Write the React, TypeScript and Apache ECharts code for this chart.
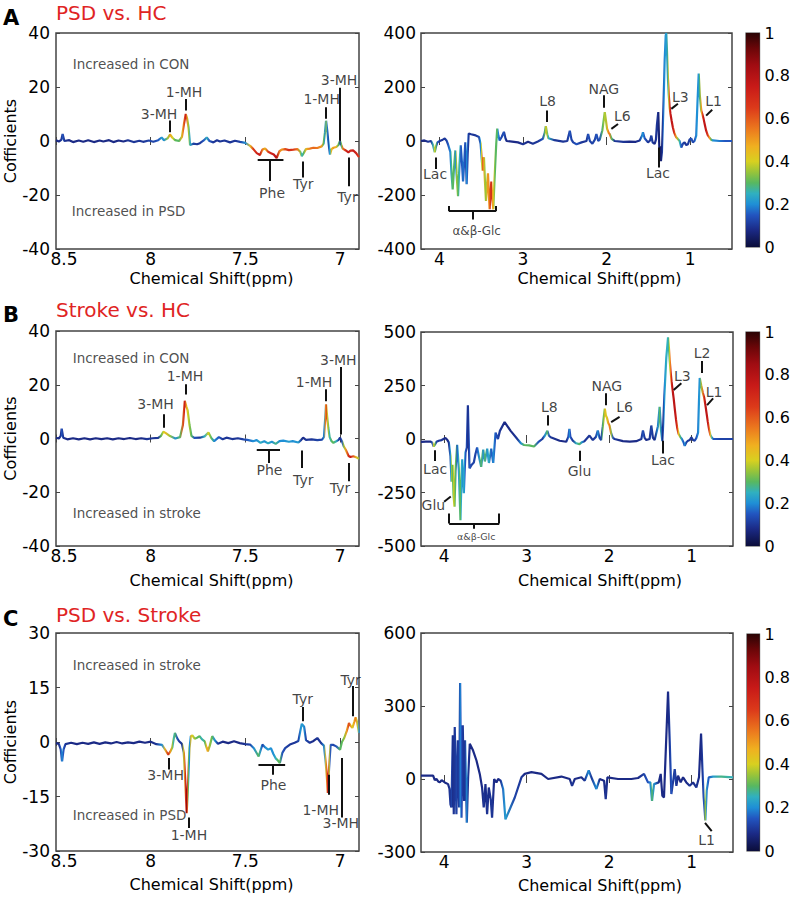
import React, { useEffect, useRef } from "react";
import * as echarts from "echarts";

const FONT = "DejaVu Sans";

// ---------- spectra: [ppm, coefficient, |r|] ----------
const psdHcAromatic = [
  [8.5, 0.3, 0.08], [8.485, -0.2, 0.08], [8.472, 0.4, 0.1], [8.465, 2.6, 0.15], [8.456, 0.0, 0.1],
  [8.43, 0.3, 0.08], [8.41, -0.4, 0.08], [8.38, 0.2, 0.08], [8.356, -0.3, 0.08], [8.33, 0.3, 0.08],
  [8.3, -0.4, 0.08], [8.27, 0.2, 0.08], [8.25, -0.2, 0.08], [8.22, 0.3, 0.08], [8.197, -0.4, 0.08],
  [8.17, 0.2, 0.08], [8.144, -0.2, 0.08], [8.12, 0.3, 0.1], [8.09, -0.4, 0.1], [8.06, 0.1, 0.1],
  [8.04, -0.3, 0.1], [8.01, 0.2, 0.12], [7.986, -0.3, 0.12], [7.96, 0.3, 0.15], [7.942, 1.3, 0.22],
  [7.93, 0.3, 0.2], [7.91, 1.0, 0.35], [7.898, 2.4, 0.5], [7.885, 1.2, 0.4], [7.871, 0.3, 0.3],
  [7.85, 0.0, 0.3], [7.835, 1.5, 0.45], [7.825, 6.0, 0.6], [7.815, 10.0, 0.75], [7.808, 8.5, 0.5],
  [7.8, 5.0, 0.35], [7.792, -1.5, 0.25], [7.775, -1.0, 0.12], [7.755, -1.2, 0.1], [7.74, -0.8, 0.1],
  [7.72, 0.2, 0.15], [7.704, 1.3, 0.25], [7.69, 0.0, 0.15], [7.669, -0.5, 0.1], [7.65, 0.3, 0.1],
  [7.634, -0.2, 0.1], [7.61, 0.2, 0.1], [7.581, -0.5, 0.1], [7.555, 0.1, 0.1], [7.528, -0.3, 0.12],
  [7.5, -0.7, 0.2], [7.475, -1.8, 0.45], [7.458, -3.0, 0.65], [7.44, -4.5, 0.72], [7.423, -5.2, 0.75],
  [7.41, -3.2, 0.55], [7.396, -2.8, 0.45], [7.38, -4.0, 0.65], [7.365, -4.5, 0.72], [7.35, -5.0, 0.75],
  [7.335, -6.3, 0.8], [7.32, -3.8, 0.55], [7.308, -3.2, 0.5], [7.29, -3.0, 0.62], [7.27, -3.4, 0.7],
  [7.246, -3.2, 0.65], [7.225, -3.0, 0.55], [7.21, -4.0, 0.35], [7.202, -5.6, 0.25], [7.192, -4.5, 0.3],
  [7.18, -3.0, 0.45], [7.16, -2.8, 0.55], [7.141, -2.5, 0.58], [7.12, -2.6, 0.55], [7.097, -2.0, 0.5],
  [7.087, -1.0, 0.3], [7.08, 3.0, 0.2], [7.074, 7.5, 0.35], [7.068, 4.0, 0.2], [7.063, 0.5, 0.1],
  [7.057, -3.0, 0.2], [7.053, -5.0, 0.25], [7.045, -3.0, 0.45], [7.035, -2.5, 0.5], [7.02, -2.2, 0.45],
  [7.009, -1.5, 0.3], [7.0, 0.0, 0.1], [6.993, -1.5, 0.3], [6.986, -2.8, 0.55], [6.97, -3.5, 0.72],
  [6.956, -4.2, 0.75], [6.945, -3.6, 0.7], [6.93, -3.5, 0.75], [6.915, -4.5, 0.72], [6.9, -6.0, 0.65],
];

const psdHcAliphatic = [
  [4.22, 0, 0.08], [4.18, 2, 0.08], [4.135, -3, 0.1], [4.1, 0, 0.1], [4.076, -15, 0.25],
  [4.056, -42, 0.4], [4.04, -20, 0.3], [4.024, -5, 0.15], [3.996, 0, 0.1], [3.96, 5, 0.1],
  [3.936, 9, 0.1], [3.915, 2, 0.12], [3.897, -12, 0.15], [3.869, -40, 0.2], [3.855, -120, 0.28],
  [3.841, -179, 0.3], [3.825, -100, 0.3], [3.809, -35, 0.2], [3.795, -120, 0.35], [3.777, -204, 0.3],
  [3.76, -90, 0.25], [3.745, -16, 0.15], [3.73, -80, 0.15], [3.717, -150, 0.18], [3.7, -60, 0.15],
  [3.69, -5, 0.12], [3.682, -80, 0.18], [3.674, -160, 0.2], [3.662, -50, 0.15], [3.65, 28, 0.1],
  [3.62, 25, 0.1], [3.578, 22, 0.1], [3.526, 15, 0.12], [3.507, -10, 0.2], [3.495, -60, 0.4],
  [3.483, -110, 0.6], [3.467, -60, 0.45], [3.455, -150, 0.35], [3.443, -222, 0.35], [3.43, -160, 0.45],
  [3.419, -120, 0.55], [3.41, -190, 0.5], [3.399, -253, 0.6], [3.39, -200, 0.65], [3.379, -150, 0.75],
  [3.367, -210, 0.5], [3.355, -253, 0.45], [3.343, -160, 0.35], [3.331, -80, 0.3], [3.32, -10, 0.3],
  [3.308, 46, 0.3], [3.295, 20, 0.2], [3.28, 2, 0.15], [3.255, 15, 0.12], [3.228, 34, 0.15],
  [3.21, 10, 0.1], [3.196, 0, 0.08], [3.13, -2, 0.08], [3.06, -5, 0.08], [3.0, -12, 0.1],
  [2.94, -3, 0.08], [2.882, -10, 0.1], [2.822, -2, 0.1], [2.762, 8, 0.15], [2.74, 30, 0.3],
  [2.727, 55, 0.42], [2.71, 25, 0.35], [2.695, 10, 0.25], [2.623, 3, 0.1], [2.52, -2, 0.1],
  [2.47, 0, 0.1], [2.44, 38, 0.15], [2.42, 5, 0.12], [2.4, -5, 0.12], [2.36, -12, 0.15],
  [2.3, -5, 0.1], [2.24, 0, 0.1], [2.221, 26, 0.15], [2.2, 0, 0.12], [2.17, -10, 0.12],
  [2.14, 5, 0.12], [2.122, 26, 0.15], [2.1, 0, 0.12], [2.082, 5, 0.15], [2.05, 40, 0.3],
  [2.022, 107, 0.38], [2.005, 70, 0.35], [1.994, 45, 0.45], [1.975, 30, 0.55], [1.963, 26, 0.55],
  [1.94, 8, 0.3], [1.903, 0, 0.1], [1.8, -3, 0.1], [1.724, -2, 0.08], [1.65, -3, 0.08],
  [1.604, 2, 0.1], [1.575, 20, 0.2], [1.565, 32, 0.2], [1.545, 10, 0.15], [1.505, -5, 0.1],
  [1.48, 2, 0.1], [1.465, 20, 0.12], [1.45, -5, 0.1], [1.425, -11, 0.08], [1.41, 5, 0.1],
  [1.398, 60, 0.1], [1.382, 107, 0.08], [1.374, 20, 0.05], [1.366, -60, 0.05], [1.358, -20, 0.05],
  [1.35, -75, 0.05], [1.338, -40, 0.08], [1.328, 50, 0.12], [1.318, 150, 0.18], [1.305, 300, 0.2],
  [1.293, 390, 0.22], [1.286, 400, 0.22], [1.276, 320, 0.22], [1.266, 230, 0.3], [1.256, 170, 0.45],
  [1.246, 125, 0.65], [1.236, 100, 0.75], [1.222, 75, 0.78], [1.207, 50, 0.75], [1.19, 30, 0.65],
  [1.17, 15, 0.5], [1.15, 8, 0.35], [1.127, 0, 0.25], [1.107, -24, 0.15], [1.087, -10, 0.12],
  [1.067, -5, 0.1], [1.047, -15, 0.1], [1.027, -12, 0.1], [1.008, 5, 0.12], [0.988, 10, 0.15],
  [0.968, -5, 0.12], [0.948, 0, 0.15], [0.928, 20, 0.2], [0.912, 150, 0.2], [0.898, 250, 0.22],
  [0.885, 170, 0.3], [0.868, 113, 0.45], [0.855, 100, 0.62], [0.84, 82, 0.75], [0.825, 60, 0.78],
  [0.809, 38, 0.75], [0.79, 22, 0.65], [0.769, 12, 0.5], [0.749, 5, 0.3], [0.729, 2, 0.2],
  [0.65, 0, 0.18], [0.58, 0, 0.15], [0.5, 0, 0.15],
];

const strokeHcAromatic = [
  [8.5, 0.3, 0.08], [8.485, 0.0, 0.08], [8.475, 1.0, 0.1], [8.47, 3.7, 0.15], [8.462, 0.3, 0.1],
  [8.44, -0.3, 0.08], [8.41, 0.1, 0.08], [8.38, -0.3, 0.08], [8.35, 0.1, 0.08], [8.32, -0.3, 0.08],
  [8.29, 0.1, 0.08], [8.26, -0.2, 0.08], [8.23, 0.1, 0.08], [8.2, -0.3, 0.08], [8.17, 0.1, 0.08],
  [8.14, -0.2, 0.08], [8.11, 0.2, 0.08], [8.08, -0.2, 0.08], [8.05, 0.1, 0.08], [8.02, -0.2, 0.1],
  [7.99, 0.1, 0.1], [7.96, 0.2, 0.1], [7.945, 1.0, 0.3], [7.933, 2.5, 0.4], [7.92, 2.0, 0.45],
  [7.898, 0.9, 0.35], [7.87, 0.0, 0.2], [7.845, 0.5, 0.3], [7.83, 5.0, 0.6], [7.82, 14.0, 0.75],
  [7.812, 12.0, 0.5], [7.805, 10.5, 0.4], [7.795, 5.0, 0.35], [7.785, 1.0, 0.3], [7.77, 0.2, 0.15],
  [7.74, 0.3, 0.1], [7.715, 0.8, 0.25], [7.695, 2.2, 0.4], [7.68, 0.2, 0.3], [7.665, -1.0, 0.2],
  [7.64, 0.5, 0.15], [7.62, -0.3, 0.1], [7.6, 0.3, 0.1], [7.57, -0.2, 0.1], [7.54, 0.1, 0.1],
  [7.51, -0.3, 0.12], [7.49, -0.5, 0.15], [7.46, -1.0, 0.2], [7.44, -0.6, 0.2], [7.42, -1.6, 0.25],
  [7.4, -1.0, 0.2], [7.38, -1.8, 0.25], [7.36, -1.2, 0.2], [7.34, -2.0, 0.28], [7.32, -1.0, 0.2],
  [7.3, -0.8, 0.2], [7.27, -1.2, 0.22], [7.25, -1.0, 0.2], [7.22, -1.5, 0.22], [7.205, -0.5, 0.1],
  [7.195, 0.3, 0.08], [7.18, -0.5, 0.1], [7.15, -0.3, 0.1], [7.12, -0.6, 0.12], [7.095, -0.4, 0.12],
  [7.085, 0.5, 0.2], [7.078, 8.0, 0.5], [7.074, 12.7, 0.75], [7.068, 8.0, 0.45], [7.062, 4.0, 0.35],
  [7.055, 0.5, 0.25], [7.045, -1.0, 0.3], [7.035, -1.6, 0.3], [7.02, -1.0, 0.25], [7.008, -0.5, 0.12],
  [7.0, 0.3, 0.08], [6.99, -1.0, 0.15], [6.98, -3.0, 0.35], [6.97, -4.2, 0.5], [6.955, -6.5, 0.7],
  [6.945, -6.9, 0.75], [6.93, -6.6, 0.6], [6.915, -7.0, 0.45], [6.9, -7.5, 0.35],
];

const strokeHcAliphatic = [
  [4.28, -13, 0.08], [4.22, -12, 0.08], [4.166, -12, 0.08], [4.145, -16, 0.15], [4.126, -35, 0.4],
  [4.11, -25, 0.3], [4.093, -13, 0.12], [4.065, -8, 0.1], [4.03, -5, 0.1], [3.984, 5, 0.08],
  [3.96, -5, 0.08], [3.943, -16, 0.1], [3.923, -80, 0.2], [3.91, -200, 0.35], [3.897, -120, 0.3],
  [3.886, -260, 0.38], [3.874, -316, 0.35], [3.862, -150, 0.3], [3.842, -27, 0.15], [3.832, -80, 0.2],
  [3.822, -137, 0.25], [3.812, -260, 0.3], [3.802, -380, 0.3], [3.791, -200, 0.25], [3.781, -95, 0.2],
  [3.771, -180, 0.22], [3.761, -253, 0.25], [3.751, -150, 0.2], [3.741, -63, 0.15], [3.725, -40, 0.12],
  [3.712, 158, 0.08], [3.705, 50, 0.1], [3.692, -137, 0.15], [3.665, -120, 0.12], [3.64, -110, 0.12],
  [3.62, -70, 0.12], [3.6, -40, 0.15], [3.579, -80, 0.2], [3.551, -130, 0.3], [3.526, -50, 0.2],
  [3.506, -105, 0.3], [3.478, -45, 0.2], [3.457, -112, 0.25], [3.429, -45, 0.15], [3.405, -112, 0.2],
  [3.377, 30, 0.15], [3.348, 0, 0.12], [3.324, 38, 0.1], [3.267, 79, 0.08], [3.194, 38, 0.08],
  [3.113, 0, 0.1], [3.07, -20, 0.2], [3.032, -28, 0.3], [2.97, -30, 0.3], [2.911, -35, 0.3],
  [2.86, -15, 0.15], [2.81, 0, 0.1], [2.78, 15, 0.2], [2.749, 38, 0.3], [2.73, 15, 0.15],
  [2.709, 8, 0.1], [2.6, -8, 0.08], [2.52, -13, 0.08], [2.495, 10, 0.15], [2.482, 47, 0.2],
  [2.47, 10, 0.15], [2.441, -8, 0.1], [2.4, -20, 0.25], [2.36, -24, 0.3], [2.33, -15, 0.2],
  [2.3, -10, 0.1], [2.239, 16, 0.1], [2.198, -5, 0.1], [2.16, 10, 0.12], [2.138, 40, 0.2],
  [2.117, 5, 0.12], [2.097, -5, 0.12], [2.077, 60, 0.3], [2.063, 110, 0.35], [2.053, 142, 0.45],
  [2.04, 110, 0.42], [2.028, 100, 0.4], [2.012, 75, 0.5], [1.996, 63, 0.55], [1.975, 25, 0.35],
  [1.955, 5, 0.15], [1.935, 0, 0.1], [1.834, -10, 0.08], [1.75, -12, 0.08], [1.672, -10, 0.08],
  [1.61, 0, 0.1], [1.591, 40, 0.15], [1.571, 5, 0.1], [1.551, -5, 0.08], [1.51, 0, 0.1],
  [1.49, 63, 0.12], [1.47, 5, 0.1], [1.449, -5, 0.08], [1.409, 60, 0.2], [1.389, 150, 0.3],
  [1.372, 40, 0.2], [1.356, -10, 0.08], [1.344, 80, 0.12], [1.332, 200, 0.2], [1.308, 380, 0.25],
  [1.287, 475, 0.25], [1.277, 430, 0.3], [1.267, 370, 0.4], [1.257, 320, 0.55], [1.245, 270, 0.7],
  [1.232, 230, 0.78], [1.219, 190, 0.78], [1.205, 140, 0.78], [1.19, 90, 0.75], [1.175, 50, 0.65],
  [1.16, 25, 0.45], [1.14, 10, 0.3], [1.12, 0, 0.2], [1.1, -15, 0.15], [1.085, -32, 0.2],
  [1.065, -15, 0.12], [1.045, -8, 0.1], [1.025, -5, 0.1], [1.004, 8, 0.1], [0.984, -5, 0.1],
  [0.964, -8, 0.12], [0.943, 5, 0.15], [0.923, 30, 0.2], [0.912, 180, 0.2], [0.903, 285, 0.22],
  [0.885, 250, 0.35], [0.865, 215, 0.55], [0.85, 195, 0.7], [0.835, 160, 0.78], [0.82, 120, 0.78],
  [0.805, 80, 0.75], [0.79, 45, 0.62], [0.775, 20, 0.45], [0.755, 5, 0.25], [0.74, 0, 0.15],
  [0.65, 0, 0.12], [0.58, 0, 0.12], [0.5, 0, 0.12],
];

const psdStrokeAromatic = [
  [8.5, -0.3, 0.08], [8.485, -0.5, 0.08], [8.475, -2.0, 0.15], [8.468, -5.3, 0.2], [8.46, -2.0, 0.15],
  [8.45, -0.6, 0.1], [8.42, -0.2, 0.08], [8.39, -0.6, 0.08], [8.36, -0.2, 0.08], [8.33, -0.5, 0.08],
  [8.3, -0.1, 0.08], [8.27, -0.5, 0.08], [8.24, -0.1, 0.08], [8.21, -0.4, 0.08], [8.18, 0.0, 0.08],
  [8.15, -0.4, 0.08], [8.12, -0.1, 0.08], [8.09, -0.3, 0.08], [8.06, 0.1, 0.08], [8.03, -0.2, 0.08],
  [8.0, 0.1, 0.08], [7.97, -0.6, 0.1], [7.94, -0.8, 0.2], [7.925, -2.0, 0.45], [7.907, -3.5, 0.7],
  [7.895, -2.5, 0.5], [7.886, -1.5, 0.35], [7.878, 1.0, 0.25], [7.872, 2.5, 0.3], [7.86, 1.0, 0.15],
  [7.85, 0.2, 0.1], [7.835, -0.5, 0.1], [7.825, -3.0, 0.4], [7.818, -10.0, 0.65], [7.812, -17.0, 0.8],
  [7.81, -19.6, 0.9], [7.805, -14.5, 0.6], [7.8, -8.0, 0.3], [7.795, -1.7, 0.2], [7.788, 1.6, 0.45],
  [7.78, 1.8, 0.4], [7.768, 0.9, 0.35], [7.755, 1.2, 0.3], [7.742, 1.6, 0.3], [7.73, 0.8, 0.25],
  [7.715, 0.2, 0.3], [7.705, -1.5, 0.45], [7.698, -2.6, 0.5], [7.688, -1.0, 0.35], [7.675, 1.6, 0.3],
  [7.662, 0.5, 0.2], [7.645, -0.5, 0.1], [7.62, 0.1, 0.08], [7.59, -0.3, 0.08], [7.56, 0.2, 0.08],
  [7.53, -0.3, 0.08], [7.5, -0.6, 0.1], [7.475, -0.7, 0.12], [7.455, -1.7, 0.2], [7.43, -4.0, 0.3],
  [7.418, -2.0, 0.2], [7.41, -0.7, 0.12], [7.395, -1.5, 0.2], [7.38, -2.1, 0.22], [7.365, -1.7, 0.2],
  [7.352, -3.3, 0.2], [7.34, -4.5, 0.25], [7.33, -5.0, 0.3], [7.318, -5.8, 0.3], [7.305, -3.0, 0.15],
  [7.29, -1.7, 0.12], [7.265, -0.7, 0.1], [7.24, -0.2, 0.1], [7.22, 0.3, 0.12], [7.21, 3.0, 0.2],
  [7.202, 5.0, 0.22], [7.19, 4.2, 0.2], [7.18, 0.5, 0.12], [7.16, -0.2, 0.1], [7.14, 0.3, 0.08],
  [7.12, 1.1, 0.1], [7.1, -0.3, 0.1], [7.085, -1.0, 0.2], [7.075, -6.0, 0.45], [7.068, -11.0, 0.65],
  [7.065, -14.0, 0.75], [7.058, -7.2, 0.4], [7.05, -0.8, 0.15], [7.035, -0.8, 0.12], [7.02, -1.2, 0.15],
  [7.0, -2.1, 0.3], [6.99, 0.0, 0.3], [6.978, 1.1, 0.35], [6.965, 3.0, 0.5], [6.953, 5.2, 0.65],
  [6.945, 4.5, 0.5], [6.935, 3.9, 0.4], [6.925, 5.5, 0.5], [6.918, 6.8, 0.55], [6.91, 5.5, 0.4],
  [6.9, 2.5, 0.2],
];

const psdStrokeAliphatic = [
  [4.28, 14, 0.08], [4.2, 14, 0.08], [4.133, 14, 0.08], [4.113, -5, 0.08], [4.093, 0, 0.08],
  [4.072, -10, 0.08], [4.052, -14, 0.08], [4.03, -5, 0.08], [3.992, -14, 0.08], [3.952, -21, 0.08],
  [3.935, -40, 0.1], [3.923, -104, 0.1], [3.911, -117, 0.12], [3.895, 180, 0.08], [3.883, -145, 0.1],
  [3.871, 214, 0.1], [3.851, -145, 0.12], [3.834, 159, 0.1], [3.818, -117, 0.12], [3.806, 394, 0.2],
  [3.79, -159, 0.15], [3.774, 221, 0.1], [3.758, -90, 0.1], [3.746, 159, 0.1], [3.725, -180, 0.2],
  [3.709, 7, 0.1], [3.689, 145, 0.08], [3.649, 117, 0.08], [3.608, 76, 0.08], [3.568, 21, 0.08],
  [3.54, -35, 0.08], [3.52, -117, 0.1], [3.499, -21, 0.08], [3.479, -145, 0.1], [3.459, -35, 0.08],
  [3.435, -83, 0.1], [3.419, -159, 0.1], [3.394, 0, 0.08], [3.366, -14, 0.08], [3.346, 0, 0.08],
  [3.314, -7, 0.1], [3.285, -41, 0.18], [3.257, -166, 0.22], [3.144, -76, 0.12], [3.063, 7, 0.1],
  [3.023, 21, 0.08], [2.942, 28, 0.08], [2.821, 21, 0.08], [2.74, 0, 0.08], [2.579, 10, 0.08],
  [2.478, 0, 0.08], [2.45, -28, 0.1], [2.417, 0, 0.08], [2.337, 7, 0.08], [2.296, -7, 0.1],
  [2.248, 35, 0.2], [2.216, 7, 0.1], [2.155, -41, 0.2], [2.115, 0, 0.08], [2.062, -7, 0.08],
  [2.042, -83, 0.1], [2.022, 7, 0.08], [1.893, 0, 0.08], [1.731, 0, 0.08], [1.65, 4, 0.08],
  [1.578, 21, 0.12], [1.529, -14, 0.15], [1.501, -14, 0.2], [1.481, -90, 0.3], [1.457, -21, 0.2],
  [1.4, -14, 0.08], [1.376, 21, 0.08], [1.356, -69, 0.08], [1.336, -76, 0.08], [1.319, 76, 0.08],
  [1.287, 359, 0.08], [1.267, 159, 0.1], [1.247, -62, 0.15], [1.227, -14, 0.1], [1.206, 41, 0.12],
  [1.186, -28, 0.1], [1.166, 14, 0.08], [1.134, -14, 0.08], [1.105, 7, 0.08], [1.065, -14, 0.08],
  [1.025, -28, 0.1], [0.984, -14, 0.08], [0.944, -35, 0.1], [0.912, 7, 0.08], [0.887, 187, 0.08],
  [0.871, 48, 0.1], [0.855, -76, 0.15], [0.835, -170, 0.35], [0.819, -48, 0.2], [0.794, 7, 0.15],
  [0.742, 10, 0.22], [0.641, 10, 0.28], [0.5, 7, 0.25],
];

// ---------- annotations: text [ppm, coefficient, text, align, fontSize] ----------
const psdHcAromaticLabels = [
  [8.412, 28.7, "Increased in CON", "left"], [8.417, -25.9, "Increased in PSD", "left"],
  [7.956, 10, "3-MH"], [7.824, 18.1, "1-MH"], [7.097, 15.6, "1-MH"], [7.005, 22.5, "3-MH"],
  [7.359, -19.1, "Phe"], [7.194, -16, "Tyr"], [6.961, -20.6, "Tyr"],
];
const psdHcAromaticMarks = [
  [[7.898, 7.6], [7.898, 3.2]], [[7.815, 15.6], [7.815, 11.3]], [[7.074, 12.5], [7.074, 8.2]],
  [[7.0, 19.7], [7.0, 0.1]], [[7.435, -7.1], [7.299, -7.1]], [[7.373, -7.1], [7.373, -14.8]],
  [[7.197, -7.6], [7.197, -13.5]], [[6.956, -6.1], [6.956, -16.8]],
];
const psdHcAliphaticLabels = [
  [4.052, -123, "Lac"], [3.554, -334, "α&β-Glc", "center", 12], [2.707, 150, "L8"], [2.034, 194, "NAG"],
  [1.811, 94, "L6"], [1.386, -117, "Lac"], [1.119, 163, "L3"], [0.721, 150, "L1"],
];
const psdHcAliphaticMarks = [
  [[4.044, -61], [4.044, -104]],
  [[3.885, -241], [3.885, -260]], [[3.885, -260], [3.323, -260]], [[3.323, -260], [3.323, -241]],
  [[3.606, -260], [3.606, -291]],
  [[2.711, 113], [2.711, 70]], [[2.03, 169], [2.03, 123]], [[1.863, 63], [1.943, 45]],
  [[1.374, -24], [1.374, -98]], [[1.147, 138], [1.226, 119]], [[0.737, 116], [0.809, 94]],
];
const strokeHcAromaticLabels = [
  [8.412, 30.1, "Increased in CON", "left"], [8.412, -27.8, "Increased in stroke", "left"],
  [7.974, 12.7, "3-MH"], [7.819, 23.4, "1-MH"], [7.137, 21.2, "1-MH"], [7.009, 29.3, "3-MH"],
  [7.373, -11.8, "Phe"], [7.194, -15.3, "Tyr"], [7.0, -18.4, "Tyr"],
];
const strokeHcAromaticMarks = [
  [[7.933, 9], [7.933, 4]], [[7.815, 20.2], [7.815, 16.4]], [[7.074, 18.3], [7.074, 13.9]],
  [[6.997, 26.6], [6.997, 1.5]], [[7.44, -4.1], [7.317, -4.1]], [[7.379, -4.1], [7.379, -9.1]],
  [[7.202, -4.5], [7.202, -11]], [[6.952, -9.1], [6.952, -15.9]],
];
const strokeHcAliphaticLabels = [
  [4.109, -142, "Lac"], [4.13, -308, "Glu"], [3.611, -454, "α&β-Glc", "center", 9.5], [2.725, 150, "L8"],
  [2.36, -150, "Glu"], [2.028, 248, "NAG"], [1.814, 150, "L6"], [1.348, -96, "Lac"],
  [1.113, 293, "L3"], [0.874, 403, "L2"], [0.729, 221, "L1"],
];
const strokeHcAliphaticMarks = [
  [[4.109, -52], [4.109, -103]], [[4.0, -293], [3.919, -269]],
  [[3.939, -348], [3.939, -395]], [[3.939, -395], [3.332, -395]], [[3.332, -395], [3.332, -348]],
  [[3.636, -395], [3.636, -419]],
  [[2.745, 111], [2.745, 63]], [[2.352, -55], [2.352, -103]], [[2.045, 214], [2.045, 158]],
  [[1.874, 103], [1.976, 79]], [[1.348, -8], [1.348, -68]], [[1.126, 261], [1.219, 229]],
  [[0.883, 364], [0.883, 308]], [[0.741, 190], [0.814, 158]],
];
const psdStrokeAromaticLabels = [
  [8.412, 21.3, "Increased in stroke", "left"], [8.412, -20.1, "Increased in PSD", "left"],
  [7.921, -9, "3-MH"], [7.798, -25.6, "1-MH"], [7.352, -11.8, "Phe"], [7.197, 11.7, "Tyr"],
  [6.944, 17.2, "Tyr"], [7.102, -18.7, "1-MH"], [6.996, -22.4, "3-MH"],
];
const psdStrokeAromaticMarks = [
  [[7.907, -4.4], [7.907, -7.6]], [[7.798, -20.8], [7.798, -23.7]],
  [[7.431, -6.3], [7.29, -6.3]], [[7.356, -6.3], [7.356, -9]],
  [[7.197, 9.6], [7.197, 5.7]], [[6.933, 15.4], [6.933, 7.1]],
  [[7.062, -9], [7.062, -14.5]], [[6.991, -4.4], [6.991, -20.8]],
];
const psdStrokeAliphaticLabels = [[0.819, -249, "L1"]];
const psdStrokeAliphaticMarks = [[[0.758, -214], [0.839, -180]]];

// ---------- axes ----------
const aromaticTicks = [8.5, 8, 7.5, 7];
const aliphaticTicks = [4, 3, 2, 1];
const colorbarRange = [0, 1];

// colour map for |r| (jet-like)
const CMAP: [number, string][] = [
  [0.0, "#0b0d3a"], [0.08, "#1b2a86"], [0.15, "#2255c0"], [0.2, "#1f8fd6"], [0.25, "#30b0c0"],
  [0.3, "#58b860"], [0.35, "#98c43a"], [0.4, "#d8d020"], [0.47, "#f0b020"], [0.55, "#ec7a1e"],
  [0.65, "#dc3a1a"], [0.75, "#c81a18"], [0.85, "#a00c12"], [0.93, "#6a0608"], [1.0, "#2a0404"],
];

function hexToRgb(h: string) {
  return [parseInt(h.slice(1, 3), 16), parseInt(h.slice(3, 5), 16), parseInt(h.slice(5, 7), 16)];
}
function cmap(r: number) {
  const v = Math.max(0, Math.min(1, r));
  for (let i = 0; i < CMAP.length - 1; i++) {
    const [a, ca] = CMAP[i];
    const [b, cb] = CMAP[i + 1];
    if (v >= a && v <= b) {
      const t = (v - a) / (b - a);
      const A = hexToRgb(ca), B = hexToRgb(cb);
      const c = A.map((x, k) => Math.round(x + (B[k] - x) * t));
      return `rgb(${c[0]},${c[1]},${c[2]})`;
    }
  }
  return CMAP[CMAP.length - 1][1];
}
function lineGradient(data: number[][]) {
  const x0 = data[0][0];
  const x1 = data[data.length - 1][0];
  const stops = data.map((d) => ({ offset: (x0 - d[0]) / (x0 - x1), color: cmap(d[2]) }));
  return new echarts.graphic.LinearGradient(0, 0, 1, 0, stops);
}

const PANELS = [
  { data: psdHcAromatic, labels: psdHcAromaticLabels, marks: psdHcAromaticMarks, grid: { left: 56, top: 33, width: 303, height: 216 }, xMin: 6.9, xMax: 8.5, xTicks: aromaticTicks, yMin: -40, yMax: 40, yStep: 20, isLeft: true, nameGap: 22 },
  { data: psdHcAliphatic, labels: psdHcAliphaticLabels, marks: psdHcAliphaticMarks, grid: { left: 421, top: 33, width: 311, height: 216 }, xMin: 0.5, xMax: 4.22, xTicks: aliphaticTicks, yMin: -400, yMax: 400, yStep: 200, isLeft: false, nameGap: 22 },
  { data: strokeHcAromatic, labels: strokeHcAromaticLabels, marks: strokeHcAromaticMarks, grid: { left: 56, top: 331, width: 303, height: 215 }, xMin: 6.9, xMax: 8.5, xTicks: aromaticTicks, yMin: -40, yMax: 40, yStep: 20, isLeft: true, nameGap: 27 },
  { data: strokeHcAliphatic, labels: strokeHcAliphaticLabels, marks: strokeHcAliphaticMarks, grid: { left: 421, top: 332, width: 312, height: 214 }, xMin: 0.5, xMax: 4.28, xTicks: aliphaticTicks, yMin: -500, yMax: 500, yStep: 250, isLeft: false, nameGap: 27 },
  { data: psdStrokeAromatic, labels: psdStrokeAromaticLabels, marks: psdStrokeAromaticMarks, grid: { left: 56, top: 633, width: 303, height: 218 }, xMin: 6.9, xMax: 8.5, xTicks: aromaticTicks, yMin: -30, yMax: 30, yStep: 15, isLeft: true, nameGap: 26 },
  { data: psdStrokeAliphatic, labels: psdStrokeAliphaticLabels, marks: psdStrokeAliphaticMarks, grid: { left: 421, top: 633, width: 312, height: 219 }, xMin: 0.5, xMax: 4.28, xTicks: aliphaticTicks, yMin: -300, yMax: 600, yStep: 300, isLeft: false, nameGap: 26 },
];

const COLORBARS = [
  { left: 746, top: 33, width: 19, height: 214 },
  { left: 746, top: 332, width: 20, height: 214 },
  { left: 747, top: 634, width: 20, height: 217 },
];

const TITLES = [
  { letter: "A", title: "PSD vs. HC", y: 13, ly: 18 },
  { letter: "B", title: "Stroke vs. HC", y: 310, ly: 315 },
  { letter: "C", title: "PSD vs. Stroke", y: 615, ly: 619 },
];

function buildOption() {
  const grid: any[] = [];
  const xAxis: any[] = [];
  const yAxis: any[] = [];
  const series: any[] = [];
  const frame = "#444";
  const tickStyle = { color: frame, width: 1 };

  PANELS.forEach((p, i) => {
    grid.push({ ...p.grid, show: true, borderColor: frame, borderWidth: 1.5 });
    const xc = { type: "value", gridIndex: i, min: p.xMin, max: p.xMax, inverse: true, splitLine: { show: false }, axisLine: { show: false } };
    const firstTick = p.xTicks[0];
    xAxis.push({
      ...xc, position: "bottom",
      axisTick: { inside: true, length: 4, customValues: p.xTicks, lineStyle: tickStyle },
      axisLabel: {
        customValues: p.xTicks, fontSize: 17, lineHeight: 13, color: "#000", margin: 3, fontFamily: FONT,
        formatter: (v: number) => (p.isLeft && v === firstTick ? `{e|${v}}` : `${v}`),
        rich: { e: { padding: [0, 0, 0, 16], fontSize: 17, lineHeight: 13, color: "#000", fontFamily: FONT } },
      },
      name: "Chemical Shift(ppm)", nameLocation: "middle", nameGap: p.nameGap,
      nameTextStyle: { fontSize: 16, lineHeight: 14, color: "#000", fontFamily: FONT, padding: p.isLeft ? [0, 0, 0, 8] : [0, 0, 0, 46] },
    });
    xAxis.push({
      ...xc, position: "top",
      axisTick: { inside: true, length: 4, customValues: p.xTicks, lineStyle: tickStyle },
      axisLabel: { show: false },
    });
    const yc = { type: "value", gridIndex: i, min: p.yMin, max: p.yMax, interval: p.yStep, splitLine: { show: false }, axisLine: { show: false } };
    yAxis.push({
      ...yc, position: "left",
      axisTick: { inside: true, length: 4, lineStyle: tickStyle },
      axisLabel: { fontSize: 17, lineHeight: 13, color: "#000", margin: p.isLeft ? 6 : 5, fontFamily: FONT },
      name: p.isLeft ? "Cofficients" : "", nameLocation: "middle", nameGap: 38,
      nameTextStyle: { fontSize: 16, lineHeight: 14, color: "#000", fontFamily: FONT },
    });
    yAxis.push({
      ...yc, position: "right",
      axisTick: { inside: true, length: 4, lineStyle: tickStyle },
      axisLabel: { show: false },
    });

    series.push({
      type: "line", xAxisIndex: 2 * i, yAxisIndex: 2 * i,
      data: p.data.map((d) => [d[0], d[1]]),
      symbol: "none", showSymbol: false, silent: true, z: 3,
      lineStyle: { width: 2.2, color: lineGradient(p.data) },
    });
    series.push({
      type: "lines", coordinateSystem: "cartesian2d", xAxisIndex: 2 * i, yAxisIndex: 2 * i,
      data: p.marks.map((m) => ({ coords: m })),
      lineStyle: { color: "#111", width: 2, opacity: 1, curveness: 0 },
      silent: true, z: 5,
    });
    series.push({
      type: "scatter", xAxisIndex: 2 * i, yAxisIndex: 2 * i, symbolSize: 0, silent: true, z: 6,
      itemStyle: { color: "transparent" },
      label: { show: true, position: "inside", color: "#111", fontSize: 14, lineHeight: 12, fontFamily: FONT, verticalAlign: "middle" },
      data: p.labels.map((l: any) => {
        const isNote = String(l[2]).startsWith("Increased");
        return {
          value: [l[0], l[1]],
          label: {
            formatter: l[2], align: l[3] || "center", fontSize: l[4] || (isNote ? 13.5 : 14),
            color: isNote ? "#222" : "#111",
          },
        };
      }),
    });
  });

  COLORBARS.forEach((g, k) => {
    const gi = PANELS.length + k;
    grid.push({ ...g, show: true, borderColor: frame, borderWidth: 1.2 });
    xAxis.push({ type: "category", gridIndex: gi, data: ["|r|"], show: false });
    yAxis.push({
      type: "value", gridIndex: gi, min: colorbarRange[0], max: colorbarRange[1], interval: 0.2,
      position: "right", axisLine: { show: false }, splitLine: { show: false },
      axisTick: { inside: true, length: 3, lineStyle: tickStyle },
      axisLabel: { fontSize: 16, lineHeight: 13, color: "#000", margin: 5, fontFamily: FONT },
    });
    series.push({
      type: "bar", xAxisIndex: 2 * PANELS.length + k, yAxisIndex: 2 * PANELS.length + k,
      data: [colorbarRange[1]], barWidth: "100%", silent: true, z: 1,
      itemStyle: {
        color: new echarts.graphic.LinearGradient(0, 1, 0, 0, CMAP.map(([o, c]) => ({ offset: o, color: c }))),
      },
    });
  });

  const graphic: any[] = [];
  TITLES.forEach((t) => {
    graphic.push({
      type: "text", x: 3, y: t.ly, silent: true,
      style: { text: t.letter, fill: "#000", font: `bold 21px "${FONT}"`, align: "left", verticalAlign: "middle" },
    });
    graphic.push({
      type: "text", x: 56, y: t.y, silent: true,
      style: { text: t.title, fill: "#e02424", font: `20px "${FONT}"`, align: "left", verticalAlign: "middle" },
    });
  });

  return {
    animation: false,
    backgroundColor: "#ffffff",
    textStyle: { fontFamily: FONT },
    grid, xAxis, yAxis, series, graphic,
  };
}

export default function App() {
  const ref = useRef<HTMLDivElement>(null);
  useEffect(() => {
    if (!ref.current) return;
    const chart = echarts.init(ref.current, undefined, { renderer: "svg" });
    chart.setOption(buildOption() as any);
    return () => chart.dispose();
  }, []);
  return (
    <div
      ref={ref}
      style={{ position: "absolute", left: 0, top: 0, width: 793, height: 899, background: "#fff" }}
    />
  );
}
